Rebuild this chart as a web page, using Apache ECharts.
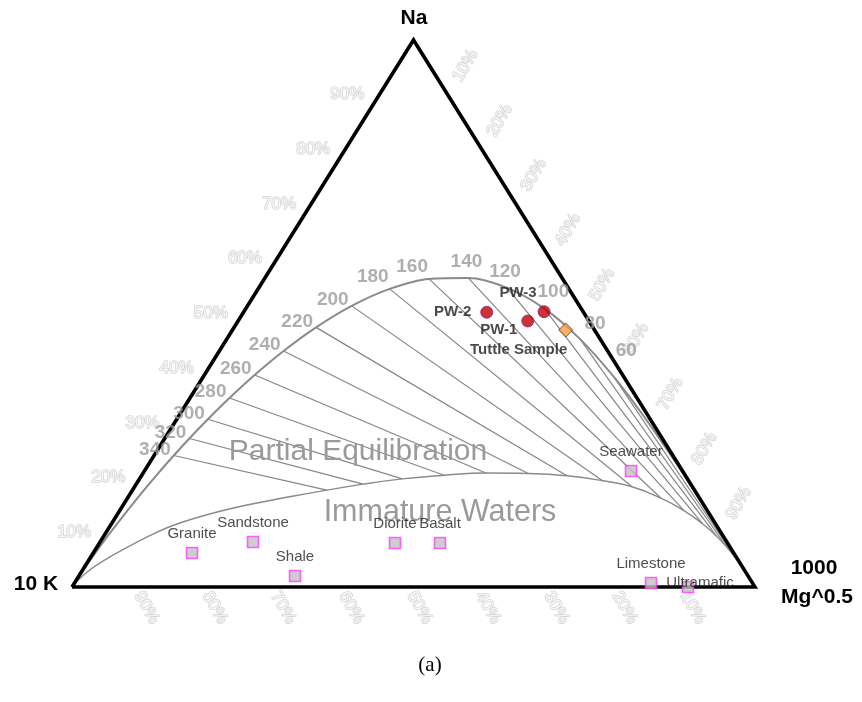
<!DOCTYPE html>
<html>
<head>
<meta charset="utf-8">
<script src="https://cdn.jsdelivr.net/npm/echarts@6/dist/echarts.min.js"></script>
<style>
  html, body { margin: 0; padding: 0; background: #fff; }
  #chart { width: 862px; height: 702px; }
</style>
</head>
<body>
<div id="chart"></div>
<script>
// Giggenbach Na-K-Mg ternary: components are Na/1000, K/100 and sqrt(Mg),
// each row gives normalised fractions [T (°C), Na, K, Mg].
const fullEquilibrium = [
  [1000, 0.0215, 0.9780, 0.0005],
  [700, 0.0455, 0.9527, 0.0018],
  [500, 0.0998, 0.8938, 0.0064],
  [400, 0.1685, 0.8161, 0.0154],
  [360, 0.2130, 0.7638, 0.0232],
  [340, 0.2404, 0.7308, 0.0288],
  [320, 0.2715, 0.6924, 0.0361],
  [300, 0.3066, 0.6478, 0.0456],
  [280, 0.3455, 0.5967, 0.0578],
  [260, 0.3876, 0.5388, 0.0736],
  [240, 0.4315, 0.4745, 0.0940],
  [220, 0.4747, 0.4054, 0.1200],
  [200, 0.5139, 0.3335, 0.1525],
  [180, 0.5450, 0.2624, 0.1926],
  [160, 0.5632, 0.1957, 0.2411],
  [140, 0.5647, 0.1372, 0.2981],
  [120, 0.5468, 0.0896, 0.3636],
  [100, 0.5089, 0.0539, 0.4372],
  [80, 0.4531, 0.0295, 0.5174],
  [60, 0.3831, 0.0145, 0.6024],
  [40, 0.3056, 0.0063, 0.6882],
  [20, 0.2273, 0.0023, 0.7704],
  [0, 0.1557, 0.0007, 0.8436],
  [-20, 0.0969, 0.0002, 0.9029],
  [-40, 0.0537, 0.0000, 0.9463]
];

// Lower boundary of partial equilibration (immature waters below it).
const immatureBoundary = [
  [1000, 0.0214, 0.9728, 0.0059],
  [700, 0.0447, 0.9360, 0.0193],
  [500, 0.0937, 0.8393, 0.0669],
  [450, 0.1166, 0.7849, 0.0985],
  [400, 0.1435, 0.6951, 0.1614],
  [360, 0.1658, 0.5944, 0.2398],
  [340, 0.1771, 0.5383, 0.2846],
  [320, 0.1881, 0.4798, 0.3321],
  [300, 0.1976, 0.4175, 0.3849],
  [280, 0.2044, 0.3530, 0.4426],
  [260, 0.2084, 0.2898, 0.5018],
  [240, 0.2075, 0.2282, 0.5643],
  [220, 0.2033, 0.1736, 0.6231],
  [200, 0.1943, 0.1261, 0.6796],
  [180, 0.1833, 0.0883, 0.7284],
  [160, 0.1623, 0.0564, 0.7813],
  [140, 0.1393, 0.0338, 0.8269],
  [120, 0.1157, 0.0190, 0.8654],
  [100, 0.0929, 0.0098, 0.8973],
  [80, 0.0718, 0.0047, 0.9235],
  [60, 0.0534, 0.0020, 0.9446],
  [40, 0.0379, 0.0008, 0.9613],
  [0, 0.0161, 0.0001, 0.9838]
];

// Na/K isotherms drawn between the two curves.
const isothermTemps = [340, 320, 300, 280, 260, 240, 220, 200, 180, 160, 140, 120, 100, 80, 60];

// Rock and water reference compositions [Na, K, Mg].
const rockNames = ['Granite', 'Sandstone', 'Shale', 'Diorite', 'Basalt', 'Seawater', 'Limestone', 'Ultramafic'];
const rockComps = [
  [0.0622, 0.7932, 0.1446],
  [0.0823, 0.6938, 0.2239],
  [0.0201, 0.6634, 0.3165],
  [0.0804, 0.4869, 0.4327],
  [0.0804, 0.4210, 0.4986],
  [0.2121, 0.0755, 0.7124],
  [0.0073, 0.1486, 0.8441],
  [0.0000, 0.0981, 0.9019]
];

// Well samples [Na, K, Mg].
const sampleNames = ['PW-1', 'PW-2', 'PW-3'];
const sampleComps = [
  [0.4863, 0.0896, 0.4241],
  [0.5022, 0.1417, 0.3561],
  [0.5033, 0.0572, 0.4395]
];
const tuttleName = 'Tuttle Sample';
const tuttleComp = [0.4698, 0.0423, 0.4879];

// Edge tick labels (percent).
const tickPercents = [10, 20, 30, 40, 50, 60, 70, 80, 90];

// ---------------------------------------------------------------------------
const FONT = '"Liberation Sans", Arial, Helvetica, sans-serif';

// ternary fractions -> cartesian (x across the base, y up to the Na apex)
function toXY(na, k, mg) {
  const s = na + k + mg;
  const a = na / s, m = mg / s;
  return [m + a / 2, a];
}
const V_K = toXY(0, 1, 0), V_MG = toXY(0, 0, 1), V_NA = toXY(1, 0, 0);

const fullByT = {}, immByT = {};
fullEquilibrium.forEach(r => { fullByT[r[0]] = toXY(r[1], r[2], r[3]); });
immatureBoundary.forEach(r => { immByT[r[0]] = toXY(r[1], r[2], r[3]); });

const series = [];

// isotherm lines
isothermTemps.forEach(t => {
  series.push({
    type: 'line', data: [fullByT[t], immByT[t]], symbol: 'none', silent: true,
    lineStyle: { color: '#858585', width: 1.2 }, z: 2
  });
});

// full equilibrium curve
series.push({
  type: 'line', symbol: 'none', smooth: 0.3, silent: true, clip: false,
  data: [V_K].concat(fullEquilibrium.map(r => toXY(r[1], r[2], r[3]))).concat([V_MG]),
  lineStyle: { color: '#8a8a8a', width: 2 }, z: 3
});

// immature boundary
series.push({
  type: 'line', symbol: 'none', smooth: 0.45, silent: true, clip: false,
  data: [V_K].concat(immatureBoundary.map(r => toXY(r[1], r[2], r[3]))).concat([V_MG]),
  lineStyle: { color: '#8a8a8a', width: 1.4 }, z: 3
});

// triangle frame
series.push({
  type: 'line', symbol: 'none', silent: true, clip: false,
  data: [V_K, V_MG, V_NA, V_K],
  lineStyle: { color: '#000', width: 3.6, join: 'miter' }, z: 10
});

// isotherm temperature labels
function tempPlacement(t) {
  if (t >= 200) return { align: 'right', offset: [-3, -6] };
  if (t >= 160) return { align: 'right', offset: [-1, -12] };
  if (t >= 120) return { align: 'center', offset: [-2, -16] };
  if (t === 100) return { align: 'center', offset: [9, -17] };
  if (t === 80) return { align: 'center', offset: [15, -15] };
  return { align: 'center', offset: [12, -27] };
}
series.push({
  type: 'scatter', silent: true, symbolSize: 1, z: 12,
  itemStyle: { color: 'rgba(0,0,0,0)' },
  data: isothermTemps.map(t => {
    const p = tempPlacement(t);
    return {
      value: fullByT[t],
      label: {
        show: true, formatter: String(t), position: 'inside',
        align: p.align, verticalAlign: 'middle', offset: p.offset,
        color: '#9b9b9b', fontSize: 19, fontWeight: 'bold', fontFamily: FONT
      }
    };
  })
});

// edge percentage labels (outlined text); offsets are in the rotated text frame
const tickText = {
  show: true, position: 'inside', align: 'center', verticalAlign: 'middle',
  color: '#ffffff', textBorderColor: '#c9c9c9', textBorderWidth: 1.5,
  fontSize: 17, fontFamily: FONT
};
// left edge: Na percentage
series.push({
  type: 'scatter', silent: true, symbolSize: 1, z: 1, itemStyle: { color: 'rgba(0,0,0,0)' },
  data: tickPercents.map(p => ({
    value: toXY(p / 100, 1 - p / 100, 0),
    label: Object.assign({}, tickText, { formatter: p + '%', offset: [-32, 0] })
  }))
});
// right edge: Mg percentage
series.push({
  type: 'scatter', silent: true, symbolSize: 1, z: 1, itemStyle: { color: 'rgba(0,0,0,0)' },
  data: tickPercents.map(p => ({
    value: toXY(1 - p / 100, 0, p / 100),
    label: Object.assign({}, tickText, { formatter: p + '%', offset: [34, 1], rotate: 60 })
  }))
});
// bottom edge: K percentage
series.push({
  type: 'scatter', silent: true, symbolSize: 1, z: 1, itemStyle: { color: 'rgba(0,0,0,0)' },
  data: tickPercents.map(p => ({
    value: toXY(0, p / 100, 1 - p / 100),
    label: Object.assign({}, tickText, { formatter: p + '%', offset: [21, 5], rotate: -60 })
  }))
});

// rock / water reference points
series.push({
  type: 'scatter', symbol: 'rect', symbolSize: 11, z: 14, silent: true,
  itemStyle: { color: '#c0c0c0', borderColor: '#ff3cff', borderWidth: 1.6 },
  label: {
    show: true, position: 'top', distance: 5, color: '#222', fontSize: 15, fontFamily: FONT,
    formatter: p => p.name
  },
  data: rockNames.map((n, i) => {
    const d = { name: n, value: toXY(rockComps[i][0], rockComps[i][1], rockComps[i][2]) };
    if (n === 'Ultramafic') d.label = { position: 'inside', offset: [12, -4] };
    return d;
  })
});

// well samples
const sampleOffsets = { 'PW-1': [-29, 9], 'PW-2': [-34, 0], 'PW-3': [-26, -19] };
series.push({
  type: 'scatter', symbol: 'circle', symbolSize: 12, z: 15, silent: true,
  itemStyle: { color: '#c00000', borderColor: '#8b1a8b', borderWidth: 1 },
  label: {
    show: true, position: 'inside', color: '#1a1a1a', fontSize: 15, fontWeight: 'bold',
    fontFamily: FONT, formatter: p => p.name
  },
  data: sampleNames.map((n, i) => ({
    name: n, value: toXY(sampleComps[i][0], sampleComps[i][1], sampleComps[i][2]),
    label: { offset: sampleOffsets[n] }
  }))
});
series.push({
  type: 'scatter', symbol: 'diamond', symbolSize: 14, z: 15, silent: true,
  itemStyle: { color: '#f5a046', borderColor: '#6b3500', borderWidth: 1 },
  label: {
    show: true, position: 'inside', offset: [-47, 20], color: '#1a1a1a', fontSize: 15,
    fontWeight: 'bold', fontFamily: FONT, formatter: p => p.name
  },
  data: [{ name: tuttleName, value: toXY(tuttleComp[0], tuttleComp[1], tuttleComp[2]) }]
});

const chart = echarts.init(document.getElementById('chart'), null, { renderer: 'canvas' });
chart.setOption({
  animation: false,
  backgroundColor: '#ffffff',
  grid: { left: 72, top: 40, width: 683, height: 547 },
  xAxis: { type: 'value', min: 0, max: 1, show: false },
  yAxis: { type: 'value', min: 0, max: 1, show: false },
  series: series,
  graphic: [
    { type: 'text', x: 414, y: 18, z: 20,
      style: { text: 'Na', fill: '#000', font: 'bold 21px ' + FONT, align: 'center', verticalAlign: 'middle' } },
    { type: 'text', x: 36, y: 584, z: 20,
      style: { text: '10 K', fill: '#000', font: 'bold 21px ' + FONT, align: 'center', verticalAlign: 'middle' } },
    { type: 'text', x: 814, y: 568, z: 20,
      style: { text: '1000', fill: '#000', font: 'bold 21px ' + FONT, align: 'center', verticalAlign: 'middle' } },
    { type: 'text', x: 817, y: 597, z: 20,
      style: { text: 'Mg^0.5', fill: '#000', font: 'bold 21px ' + FONT, align: 'center', verticalAlign: 'middle' } },
    { type: 'text', x: 358, y: 452, z: 5,
      style: { text: 'Partial Equilibration', fill: '#9a9a9a', font: '30px ' + FONT, align: 'center', verticalAlign: 'middle' } },
    { type: 'text', x: 440, y: 513, z: 5,
      style: { text: 'Immature Waters', fill: '#9a9a9a', font: '30.5px ' + FONT, align: 'center', verticalAlign: 'middle' } },
    { type: 'text', x: 430, y: 665, z: 20,
      style: { text: '(a)', fill: '#000', font: '21px "Liberation Serif", "Times New Roman", serif', align: 'center', verticalAlign: 'middle' } }
  ]
});
</script>
</body>
</html>
